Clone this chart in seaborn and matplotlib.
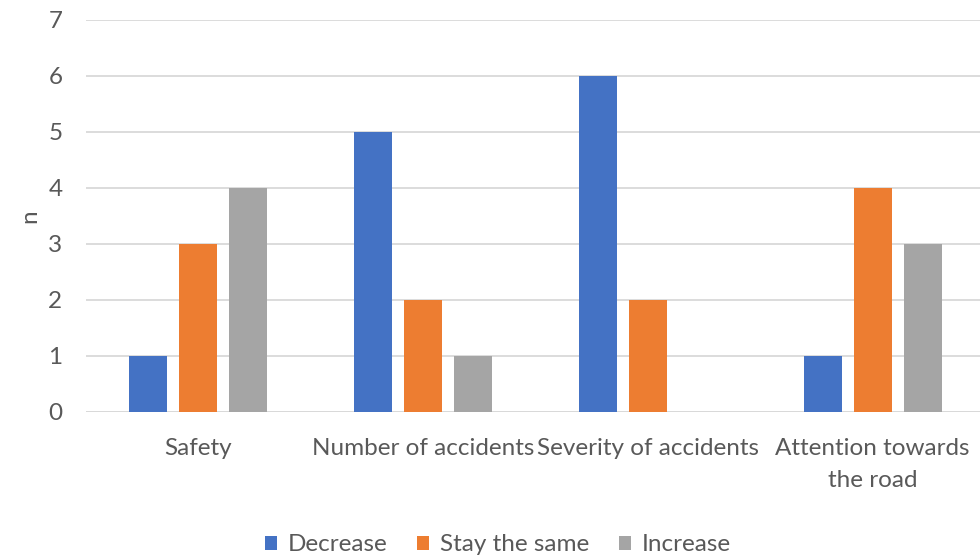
import matplotlib
matplotlib.use("Agg")
import matplotlib.pyplot as plt
from matplotlib.patches import Patch
import pandas as pd
import seaborn as sns

categories = ["Safety", "Number of accidents", "Severity of accidents", "Attention towards\nthe road"]
series = ["Decrease", "Stay the same", "Increase"]
decrease = [1, 5, 6, 1]
stay_same = [3, 2, 2, 4]
increase = [4, 1, 0, 3]
y_ticks = [0, 1, 2, 3, 4, 5, 6, 7]
colors = ["#4472C4", "#ED7D31", "#A5A5A5"]

df = pd.DataFrame({
    "category": categories * 3,
    "response": [s for s in series for _ in categories],
    "n": decrease + stay_same + increase,
})

sns.set_theme(style="white")
plt.rcParams["font.family"] = ["Lato", "DejaVu Sans"]
text_color = "#595959"
fs = 17.5

fig = plt.figure(figsize=(9.8, 5.55), dpi=100)
ax = fig.add_axes([86 / 980, 143 / 555, 899 / 980, 392 / 555])

sns.barplot(data=df, x="category", y="n", hue="response", order=categories,
            hue_order=series, palette=colors, width=0.667, gap=0.24,
            saturation=1, linewidth=0, ax=ax, legend=False)

ax.set_xlim(-0.5, 3.5)
ax.set_ylim(0, 7)
ax.set_yticks(y_ticks)
ax.yaxis.grid(True, color="#D9D9D9", linewidth=1.3)
ax.set_axisbelow(True)
for s in ax.spines.values():
    s.set_visible(False)
ax.axhline(0, color="#D9D9D9", linewidth=1.3, zorder=0.5)

ax.tick_params(axis="y", length=0, pad=17, labelsize=fs, labelcolor=text_color)
ax.tick_params(axis="x", length=0, pad=19, labelsize=fs, labelcolor=text_color)
for lbl in ax.get_xticklabels():
    lbl.set_linespacing(1.65)
    lbl.set_verticalalignment("top")
ax.set_xlabel("")
ax.set_ylabel("n", fontsize=fs, color=text_color, labelpad=6)

handles = [Patch(facecolor=c, edgecolor="none") for c in colors]
fig.legend(handles, series, loc="lower center", bbox_to_anchor=(498 / 980, -0.04),
           ncol=3, frameon=False, fontsize=fs, labelcolor=text_color,
           handlelength=0.5, handleheight=0.5, handletextpad=0.45, columnspacing=1.2)

fig.savefig("out.png", dpi=100)
